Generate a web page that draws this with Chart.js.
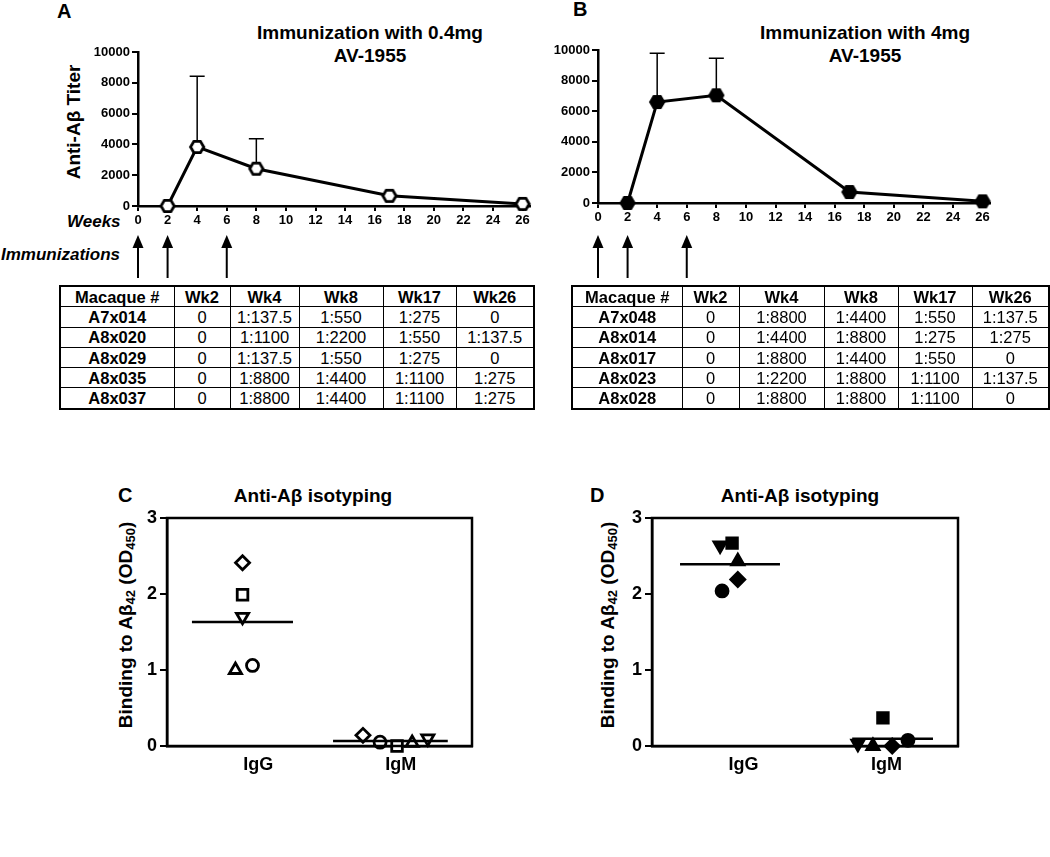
<!DOCTYPE html>
<html>
<head>
<meta charset="utf-8">
<script src="https://cdn.jsdelivr.net/npm/chart.js@4.4.1/dist/chart.umd.min.js"></script>
<style>
  body { margin: 0; background: #fff; font-family: "Liberation Sans", Arial, sans-serif; color: #000; }
  #page { position: relative; width: 1050px; height: 857px; overflow: hidden; background: #fff; }
  #page canvas { position: absolute; }
  .txt { position: absolute; font-weight: bold; white-space: nowrap; }
  .letter { font-size: 20px; }
  .title { font-size: 19px; line-height: 23px; text-align: center; width: 320px; }
  .ylab { font-size: 19px; transform: translate(-50%, -50%) rotate(-90deg); }
  .ylab sub { font-size: 13px; vertical-align: -3px; }
  .ital { font-style: italic; font-size: 17px; }
  table { position: absolute; border-collapse: collapse; table-layout: fixed; font-size: 16.5px; border: 2px solid #000; }
  td { border: 1.5px solid #000; padding: 0; height: 19.3px; line-height: 18px; text-align: center; }
  tr.head td, td:first-child { font-weight: bold; }
</style>
</head>
<body>
<div id="page">
  <div class="txt letter" style="left:57px;top:0px">A</div>
  <div class="txt letter" style="left:573px;top:-2px">B</div>
  <div class="txt title" style="left:210px;top:21px">Immunization with 0.4mg<br>AV-1955</div>
  <div class="txt title" style="left:705px;top:21px">Immunization with 4mg<br>AV-1955</div>
  <div class="txt ylab" style="left:74px;top:122px">Anti-Aβ Titer</div>
  <div class="txt ital" style="left:67px;top:212px">Weeks</div>
  <div class="txt ital" style="left:1px;top:245px">Immunizations</div>

  <canvas id="chartA" width="545" height="285" style="left:0;top:0"></canvas>
  <canvas id="chartB" width="510" height="285" style="left:540px;top:0"></canvas>

  <table id="tableA" style="left:59px;top:285px"></table>
  <table id="tableB" style="left:571px;top:285px"></table>

  <div class="txt letter" style="left:118px;top:484px">C</div>
  <div class="txt letter" style="left:590px;top:484px">D</div>
  <div class="txt title" style="left:153px;top:484px">Anti-Aβ isotyping</div>
  <div class="txt title" style="left:640px;top:484px">Anti-Aβ isotyping</div>
  <div class="txt ylab" style="left:126px;top:625px">Binding to Aβ<sub>42</sub> (OD<sub>450</sub>)</div>
  <div class="txt ylab" style="left:608px;top:625px">Binding to Aβ<sub>42</sub> (OD<sub>450</sub>)</div>

  <canvas id="chartC" width="390" height="300" style="left:100px;top:480px"></canvas>
  <canvas id="chartD" width="390" height="300" style="left:580px;top:480px"></canvas>
</div>

<script>
// time course (panels A, B)
const weekTicks = [0, 2, 4, 6, 8, 10, 12, 14, 16, 18, 20, 22, 24, 26];
const titerTicks = [0, 2000, 4000, 6000, 8000, 10000];
const immunizationWeeks = [0, 2, 6];
const sampleWeeks = [2, 4, 8, 17, 26];
const titerLowDose = [0, 3835, 2420, 660, 137.5];
const titerLowDoseSdTop = [null, 8420, 4370, null, null];
const titerHighDose = [0, 6600, 7040, 715, 110];
const titerHighDoseSdTop = [null, 9780, 9460, null, null];

// titer tables
const tableHeader = ["Macaque #", "Wk2", "Wk4", "Wk8", "Wk17", "Wk26"];
const tableLowDose = [
  ["A7x014", "0", "1:137.5", "1:550", "1:275", "0"],
  ["A8x020", "0", "1:1100", "1:2200", "1:550", "1:137.5"],
  ["A8x029", "0", "1:137.5", "1:550", "1:275", "0"],
  ["A8x035", "0", "1:8800", "1:4400", "1:1100", "1:275"],
  ["A8x037", "0", "1:8800", "1:4400", "1:1100", "1:275"],
];
const tableHighDose = [
  ["A7x048", "0", "1:8800", "1:4400", "1:550", "1:137.5"],
  ["A8x014", "0", "1:4400", "1:8800", "1:275", "1:275"],
  ["A8x017", "0", "1:8800", "1:4400", "1:550", "0"],
  ["A8x023", "0", "1:2200", "1:8800", "1:1100", "1:137.5"],
  ["A8x028", "0", "1:8800", "1:8800", "1:1100", "0"],
];
const colWidthsLow = [114, 56, 69, 84, 73, 78];
const colWidthsHigh = [110, 57, 85, 74, 74, 77];

// isotyping (panels C, D); order of animals = marker shapes
const isoCategories = ["IgG", "IgM"];
const isoTicks = [0, 1, 2, 3];
const markerShapes = ["diamond", "square", "triangleDown", "triangle", "circle"];
const igGLowDose = [2.41, 1.99, 1.70, 1.00, 1.06];
const igGLowDoseX = [0.89, 0.89, 0.89, 0.84, 0.96];
const igMLowDose = [0.14, 0.0, 0.10, 0.04, 0.05];
const igMLowDoseX = [1.735, 1.974, 2.19, 2.08, 1.855];
const meanLowDose = [1.63, 0.066];
const meanSpanLowDose = [[0.535, 1.244], [1.525, 2.33]];
const igGHighDose = [2.19, 2.67, 2.64, 2.43, 2.04];
const igGHighDoseX = [0.96, 0.92, 0.836, 0.96, 0.85];
const igMHighDose = [0.0, 0.37, 0.03, 0.0, 0.075];
const igMHighDoseX = [2.04, 1.975, 1.80, 1.905, 2.15];
const meanHighDose = [2.39, 0.097];
const meanSpanHighDose = [[0.556, 1.255], [1.76, 2.325]];

Chart.defaults.font.family = '"Liberation Sans", Arial, sans-serif';
Chart.defaults.color = "#000";

const fillTable = (id, widths, rows) => {
  const table = document.getElementById(id);
  const colgroup = document.createElement("colgroup");
  widths.forEach((w) => {
    const col = document.createElement("col");
    col.style.width = `${w}px`;
    colgroup.appendChild(col);
  });
  table.appendChild(colgroup);
  [tableHeader, ...rows].forEach((row, r) => {
    const tr = document.createElement("tr");
    if (r === 0) tr.className = "head";
    row.forEach((cell) => {
      const td = document.createElement("td");
      td.textContent = cell;
      tr.appendChild(td);
    });
    table.appendChild(tr);
  });
};

const hexagon = (filled) => {
  const c = document.createElement("canvas");
  c.width = c.height = 18;
  const g = c.getContext("2d");
  g.beginPath();
  for (let i = 0; i < 6; i++) {
    const a = (Math.PI / 3) * i;
    g.lineTo(9 + 6.6 * Math.cos(a), 9 + 6.6 * Math.sin(a));
  }
  g.closePath();
  g.fillStyle = filled ? "#000" : "#fff";
  g.fill();
  g.lineWidth = 2.8;
  g.strokeStyle = "#000";
  g.stroke();
  return c;
};

const errorBars = (xs, means, tops) => ({
  id: "errorBars",
  beforeDatasetsDraw(chart) {
    const { ctx, scales } = chart;
    ctx.save();
    ctx.strokeStyle = "#000";
    ctx.lineWidth = 1.5;
    tops.forEach((top, i) => {
      if (top === null) return;
      const px = scales.x.getPixelForValue(xs[i]);
      const y0 = scales.y.getPixelForValue(means[i]);
      const y1 = scales.y.getPixelForValue(top);
      ctx.beginPath();
      ctx.moveTo(px, y0);
      ctx.lineTo(px, y1);
      ctx.moveTo(px - 7.5, y1);
      ctx.lineTo(px + 7.5, y1);
      ctx.stroke();
    });
    ctx.restore();
  },
});

// arrows under the week axis marking immunization weeks
const immunizationArrows = {
  id: "immunizationArrows",
  afterDraw(chart) {
    const { ctx, scales } = chart;
    ctx.save();
    ctx.fillStyle = "#000";
    ctx.strokeStyle = "#000";
    ctx.lineWidth = 2;
    immunizationWeeks.forEach((w) => {
      const px = scales.x.getPixelForValue(w);
      ctx.beginPath();
      ctx.moveTo(px, 245);
      ctx.lineTo(px, 278);
      ctx.stroke();
      ctx.beginPath();
      ctx.moveTo(px, 235);
      ctx.lineTo(px - 5.5, 248);
      ctx.lineTo(px + 5.5, 248);
      ctx.closePath();
      ctx.fill();
    });
    ctx.restore();
  },
};

const frame = {
  id: "frame",
  afterDraw(chart) {
    const { ctx, chartArea: a } = chart;
    ctx.save();
    ctx.strokeStyle = "#000";
    ctx.lineWidth = 2.5;
    ctx.strokeRect(a.left, a.top, a.right - a.left, a.bottom - a.top);
    ctx.restore();
  },
};

const axisStyle = (tickLength) => ({
  grid: { drawOnChartArea: false, color: "#000", lineWidth: 2, tickLength },
  border: { color: "#000", width: 2.5 },
});

const timeCourse = (id, means, tops, filled, box) =>
  new Chart(document.getElementById(id), {
    type: "line",
    data: {
      datasets: [
        {
          data: sampleWeeks.map((w, i) => ({ x: w, y: means[i] })),
          borderColor: "#000",
          borderWidth: 3,
          pointStyle: hexagon(filled),
          clip: false,
        },
      ],
    },
    options: {
      responsive: false,
      animation: false,
      events: [],
      layout: { padding: { left: 0, top: box.top, right: box.right, bottom: 0 } },
      plugins: { legend: { display: false }, tooltip: { enabled: false } },
      scales: {
        x: {
          type: "linear",
          min: 0,
          max: 26.5,
          afterBuildTicks: (s) => { s.ticks = weekTicks.map((v) => ({ value: v })); },
          afterFit: (s) => { s.height = box.xHeight; },
          ...axisStyle(5),
          ticks: { callback: (v) => v, font: { size: 13, weight: "bold" }, maxRotation: 0, autoSkip: false, padding: 2 },
        },
        y: {
          min: 0,
          max: 10000,
          afterBuildTicks: (s) => { s.ticks = titerTicks.map((v) => ({ value: v })); },
          afterFit: (s) => { s.width = box.yWidth; },
          ...axisStyle(6),
          ticks: { callback: (v) => v, font: { size: 13, weight: "bold" }, padding: 2 },
        },
      },
    },
    plugins: [errorBars(sampleWeeks, means, tops), immunizationArrows],
  });

const shapeStyle = {
  diamond: { pointStyle: "rectRot", radius: 7, rotation: 0 },
  square: { pointStyle: "rect", radius: 7.5, rotation: 0 },
  triangleDown: { pointStyle: "triangle", radius: 7, rotation: 180 },
  triangle: { pointStyle: "triangle", radius: 7, rotation: 0 },
  circle: { pointStyle: "circle", radius: 6, rotation: 0 },
};

const isotyping = (id, igG, igGX, igM, igMX, means, spans, filled, box) => {
  const pointSets = markerShapes.map((shape, i) => ({
    type: "scatter",
    data: [
      { x: igGX[i], y: igG[i] },
      { x: igMX[i], y: igM[i] },
    ],
    pointStyle: shapeStyle[shape].pointStyle,
    pointRadius: shapeStyle[shape].radius,
    rotation: shapeStyle[shape].rotation,
    borderColor: "#000",
    backgroundColor: filled ? "#000" : "#fff",
    borderWidth: 2.8,
    clip: false,
  }));
  const meanSets = means.map((m, i) => ({
    type: "line",
    data: spans[i].map((x) => ({ x, y: m })),
    borderColor: "#000",
    borderWidth: 2.5,
    pointRadius: 0,
  }));
  return new Chart(document.getElementById(id), {
    type: "scatter",
    data: { datasets: [...meanSets, ...pointSets] },
    options: {
      responsive: false,
      animation: false,
      events: [],
      layout: { padding: { left: 0, top: box.top, right: box.right, bottom: 0 } },
      plugins: { legend: { display: false }, tooltip: { enabled: false } },
      scales: {
        x: {
          type: "linear",
          min: 0.36,
          max: 2.5,
          afterBuildTicks: (s) => { s.ticks = isoCategories.map((c, i) => ({ value: i + 1 })); },
          afterFit: (s) => { s.height = box.xHeight; },
          grid: { display: false },
          border: { color: "#000", width: 2.5 },
          ticks: { callback: (v) => isoCategories[v - 1], font: { size: 18, weight: "bold" }, padding: 0 },
        },
        y: {
          min: 0,
          max: 3,
          afterBuildTicks: (s) => { s.ticks = isoTicks.map((v) => ({ value: v })); },
          afterFit: (s) => { s.width = box.yWidth; },
          ...axisStyle(7),
          ticks: { callback: (v) => v, font: { size: 18, weight: "bold" }, padding: 3 },
        },
      },
    },
    plugins: [frame],
  });
};

fillTable("tableA", colWidthsLow, tableLowDose);
fillTable("tableB", colWidthsHigh, tableHighDose);

timeCourse("chartA", titerLowDose, titerLowDoseSdTop, false, { top: 52, right: 15, yWidth: 138, xHeight: 79 });
timeCourse("chartB", titerHighDose, titerHighDoseSdTop, true, { top: 50, right: 60, yWidth: 58, xHeight: 82 });

isotyping("chartC", igGLowDose, igGLowDoseX, igMLowDose, igMLowDoseX, meanLowDose, meanSpanLowDose, false,
  { top: 38, right: 18, yWidth: 67, xHeight: 34 });
isotyping("chartD", igGHighDose, igGHighDoseX, igMHighDose, igMHighDoseX, meanHighDose, meanSpanHighDose, true,
  { top: 38, right: 12, yWidth: 72, xHeight: 34 });
</script>
</body>
</html>
